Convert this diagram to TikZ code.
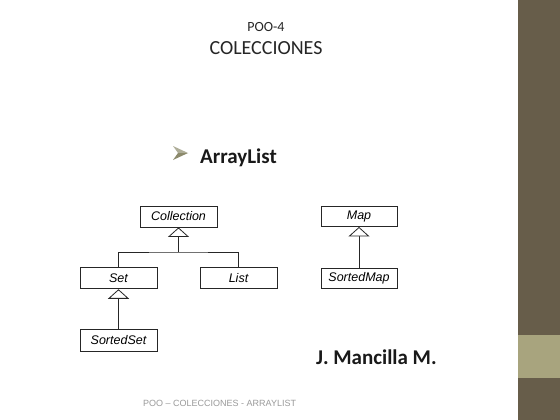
\documentclass[tikz,border=0pt]{standalone}
\usepackage{fontspec}
\setmainfont{Carlito}
\newfontfamily\arialf{Liberation Sans}
\usetikzlibrary{arrows.meta}
\definecolor{sidedark}{HTML}{675D4A}
\definecolor{sidelight}{HTML}{A8A47E}
\definecolor{footgray}{HTML}{9A9A9A}
\definecolor{bulletc}{HTML}{8C8A6C}
\begin{document}
\begin{tikzpicture}[x=1pt,y=-1pt,
  umlbox/.style={draw=black!85, line width=0.9pt, minimum width=77pt, minimum height=21pt, inner sep=0pt,
    font=\arialf\itshape\fontsize{12.5}{14}\selectfont},
  inherit/.style={-{Triangle[open, width=21pt, length=9.5pt, line width=0.8pt, fill=white]}, line width=0.9pt, draw=black!85},
  link/.style={line width=0.9pt, draw=black!85}]
\useasboundingbox (0,0) rectangle (560,420);
\fill[white] (0,0) rectangle (560,420);
% sidebar
\fill[sidedark] (518,0) rectangle (560,420);
\fill[sidelight] (518,335) rectangle (560,378);
% titles
\node[anchor=center, font=\fontsize{14}{16}\selectfont, text=black!85] (t1) at (266,27) {POO-4};
\node[anchor=center, font=\fontsize{20}{24}\selectfont, text=black!85] (t2) at (266,48) {COLECCIONES};
% bullet
\fill[bulletc!70!white] (173,146) -- (188,153) -- (178,153) -- cycle;
\fill[bulletc] (173,160) -- (188,153) -- (178,153) -- cycle;
\node[anchor=west, inner sep=0pt, font=\bfseries\fontsize{21}{24}\selectfont, text=black!90] (al) at (200,158) {ArrayList};
% diagram
\node[umlbox] (coll) at (178.5,216.5) {Collection};
\node[umlbox] (set) at (118.5,278.3) {Set};
\node[umlbox] (list) at (238.5,278.3) {List};
\node[umlbox, minimum height=22pt] (sset) at (118.5,340.3) {SortedSet};
\node[umlbox, minimum width=76pt, minimum height=20pt] (map) at (359,216.5) {Map};
\node[umlbox, minimum width=76pt, minimum height=20pt] (smap) at (359,278) {SortedMap};
\coordinate (junc) at (178.5,252);
\draw[inherit] (junc) -- (coll.south);
\draw[link] (set.north) |- (junc) -| (list.north);
\draw[inherit] (sset.north) -- (set.south);
\draw[inherit] (smap.north) -- (map.south);
% author
\node[anchor=west, inner sep=0pt, font=\bfseries\fontsize{21}{24}\selectfont, text=black!90] (auth) at (316,357) {J. Mancilla M.};
% footer
\node[anchor=west, inner sep=0pt, font=\arialf\fontsize{9}{11}\selectfont, text=footgray] (foot) at (143,403) {POO – COLECCIONES - ARRAYLIST};
\end{tikzpicture}
\end{document}
